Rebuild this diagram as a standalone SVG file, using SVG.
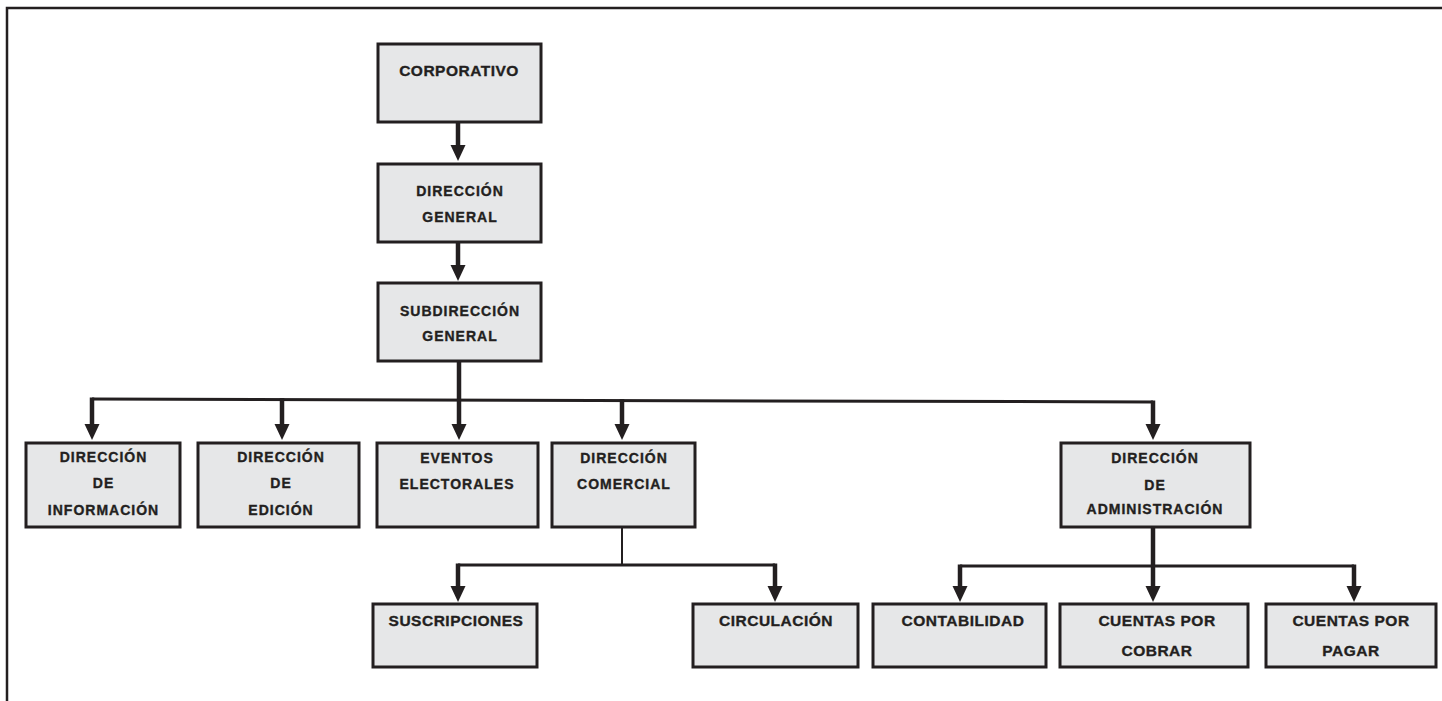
<svg xmlns="http://www.w3.org/2000/svg" width="1442" height="701" viewBox="0 0 1442 701">
<defs>
<style>
.box{fill:#e6e7e8;stroke:#231f20;stroke-width:3}
.t{font-family:"Liberation Sans",Arial,sans-serif;font-weight:bold;fill:#231f20;stroke:#231f20;stroke-width:0.35;text-anchor:middle}
.l{font-size:15.5px;letter-spacing:0.5px}
.m{font-size:14px;letter-spacing:1px}
.h{stroke:#231f20;stroke-width:3;fill:none}
.thin{stroke:#231f20;stroke-width:2;fill:none}
.s{stroke:#231f20;stroke-width:4.5;fill:none;marker-end:url(#ah)}
</style>
<marker id="ah" markerUnits="userSpaceOnUse" markerWidth="15" markerHeight="17" refX="7.5" refY="0" viewBox="0 0 15 17" overflow="visible">
<path d="M0,0 L15,0 L7.5,16 z" fill="#231f20"/>
</marker>
</defs>
<rect width="1442" height="701" fill="#ffffff"/>
<path d="M7,701 V8 H1442" fill="none" stroke="#231f20" stroke-width="2.5"/>

<g id="connectors">
<path class="s" d="M458,122 V145"/>
<path class="s" d="M458,242 V265"/>
<path class="s" d="M459,361 V424"/>
<path class="h" d="M92,399 L1153,402"/>
<path class="s" d="M92,397.5 V424"/>
<path class="s" d="M282,398 V424"/>
<path class="s" d="M622,399 V424"/>
<path class="s" d="M1153,400.5 V424"/>
<path class="thin" d="M622,527 V565"/>
<path class="h" d="M458,565 H775"/>
<path class="s" d="M458,563.5 V586"/>
<path class="s" d="M775,563.5 V586"/>
<path class="s" d="M1153,527 V586"/>
<path class="h" d="M960,566 H1354"/>
<path class="s" d="M960,564.5 V586"/>
<path class="s" d="M1354,564.5 V586"/>
</g>

<g id="corporativo">
<rect class="box" x="378" y="44" width="163" height="78"/>
<text class="t l" x="459" y="76">CORPORATIVO</text>
</g>
<g id="direccion-general">
<rect class="box" x="378" y="164" width="163" height="78"/>
<text class="t m" x="460" y="196">DIRECCIÓN</text>
<text class="t m" x="460" y="222">GENERAL</text>
</g>
<g id="subdireccion-general">
<rect class="box" x="378" y="283" width="163" height="78"/>
<text class="t m" x="460" y="316">SUBDIRECCIÓN</text>
<text class="t m" x="460" y="341">GENERAL</text>
</g>
<g id="direccion-informacion">
<rect class="box" x="26" y="443" width="154" height="84"/>
<text class="t m" x="103.5" y="462">DIRECCIÓN</text>
<text class="t m" x="103.5" y="488">DE</text>
<text class="t m" x="103.5" y="515">INFORMACIÓN</text>
</g>
<g id="direccion-edicion">
<rect class="box" x="198" y="443" width="161" height="84"/>
<text class="t m" x="281" y="462">DIRECCIÓN</text>
<text class="t m" x="281" y="488">DE</text>
<text class="t m" x="281" y="515">EDICIÓN</text>
</g>
<g id="eventos-electorales">
<rect class="box" x="377" y="443" width="161" height="84"/>
<text class="t m" x="457" y="463">EVENTOS</text>
<text class="t m" x="457" y="489">ELECTORALES</text>
</g>
<g id="direccion-comercial">
<rect class="box" x="552" y="443" width="143" height="84"/>
<text class="t m" x="624" y="463">DIRECCIÓN</text>
<text class="t m" x="624" y="489">COMERCIAL</text>
</g>
<g id="direccion-administracion">
<rect class="box" x="1061" y="443" width="189" height="84"/>
<text class="t m" x="1155" y="463">DIRECCIÓN</text>
<text class="t m" x="1155" y="490">DE</text>
<text class="t m" x="1155" y="514">ADMINISTRACIÓN</text>
</g>
<g id="suscripciones">
<rect class="box" x="373" y="604" width="164" height="63"/>
<text class="t l" x="456" y="626">SUSCRIPCIONES</text>
</g>
<g id="circulacion">
<rect class="box" x="693" y="604" width="165" height="63"/>
<text class="t l" x="776" y="626">CIRCULACIÓN</text>
</g>
<g id="contabilidad">
<rect class="box" x="873" y="604" width="173" height="63"/>
<text class="t l" x="963" y="626">CONTABILIDAD</text>
</g>
<g id="cuentas-por-cobrar">
<rect class="box" x="1060" y="604" width="188" height="63"/>
<text class="t l" x="1157" y="626">CUENTAS POR</text>
<text class="t l" x="1157" y="656">COBRAR</text>
</g>
<g id="cuentas-por-pagar">
<rect class="box" x="1266" y="604" width="170" height="63"/>
<text class="t l" x="1351" y="626">CUENTAS POR</text>
<text class="t l" x="1351" y="656">PAGAR</text>
</g>
</svg>
